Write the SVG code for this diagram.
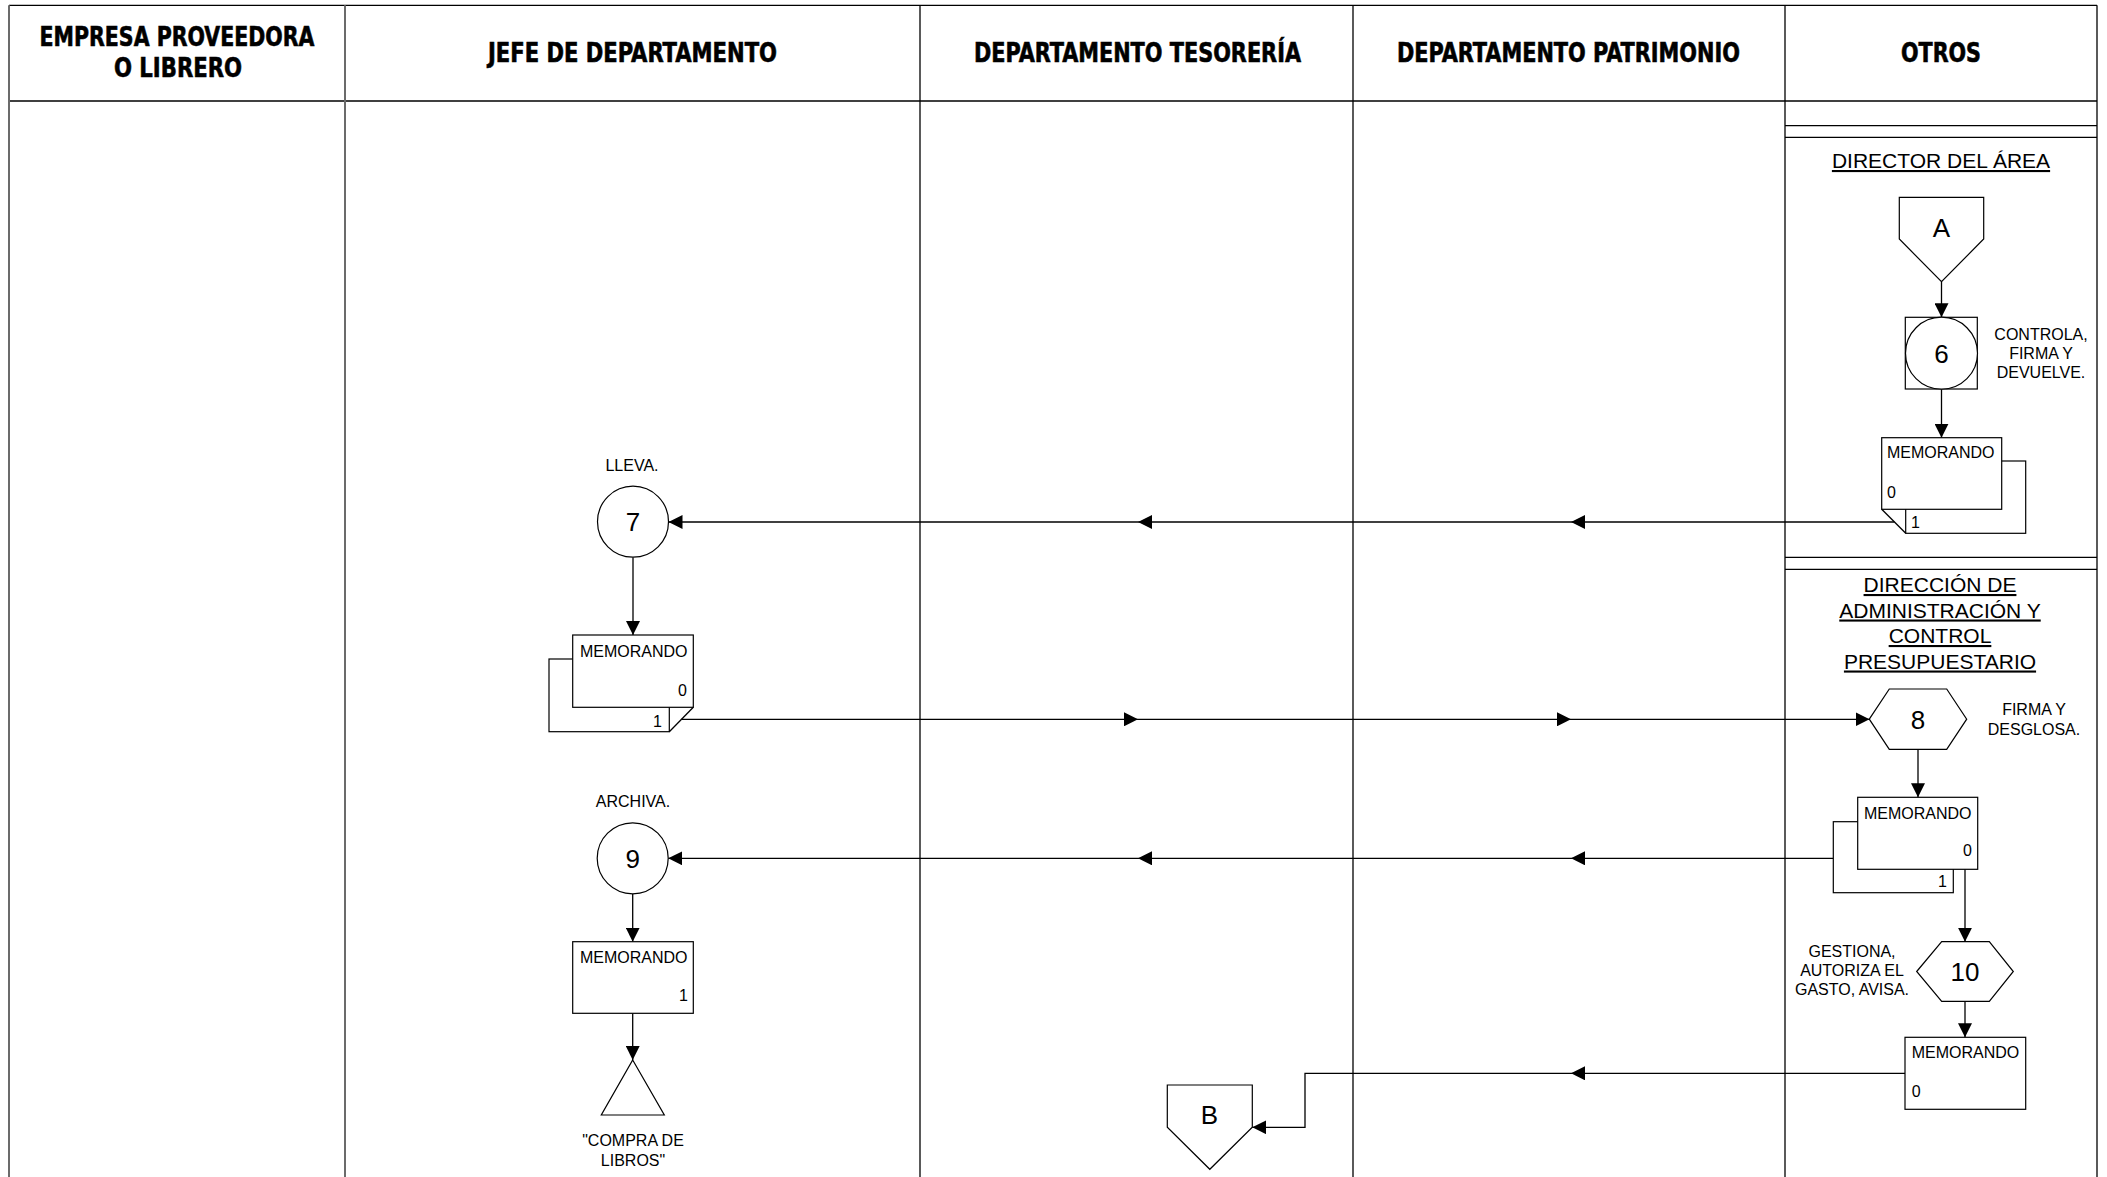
<svg xmlns="http://www.w3.org/2000/svg" width="2107" height="1177" viewBox="0 0 2107 1177">
<style>
.hdr{font-family:"Liberation Sans Narrow","DejaVu Sans Condensed","Liberation Sans",sans-serif;font-weight:bold;font-size:27px;fill:#000;stroke:#000;stroke-width:0.6;text-anchor:middle}
.t{font-family:"Liberation Sans",Arial,sans-serif;fill:#000}
.s{font-size:16px}
.big{font-size:26px;text-anchor:middle}
.mid{text-anchor:middle}
.end{text-anchor:end}
.ul{font-size:21px;text-anchor:middle;text-decoration:underline}
.shape{fill:#fff;stroke:#000;stroke-width:1.2}
.lane{stroke:#000;stroke-width:1.3;fill:none}
.lane2{stroke:#6b6b6b;stroke-width:2;fill:none}
.con{stroke:#000;stroke-width:1.3;fill:none}
.arr{marker-end:url(#ah)}
</style>
<defs>
<marker id="ah" markerUnits="userSpaceOnUse" markerWidth="14" markerHeight="14" refX="14" refY="7" orient="auto">
<path d="M0,0 L14,7 L0,14 z" fill="#000"/>
</marker>
</defs>
<rect x="0" y="0" width="2107" height="1177" fill="#fff"/>
<g id="lanes">
<line class="lane" x1="9" y1="5.3" x2="2097" y2="5.3"/>
<line class="lane" x1="9" y1="101" x2="2097" y2="101"/>
<line class="lane2" x1="9" y1="5.3" x2="9" y2="1177"/>
<line class="lane2" x1="345" y1="5.3" x2="345" y2="1177"/>
<line class="lane" x1="920" y1="5.3" x2="920" y2="1177"/>
<line class="lane" x1="1353" y1="5.3" x2="1353" y2="1177"/>
<line class="lane" x1="1785" y1="5.3" x2="1785" y2="1177"/>
<line class="lane" x1="2097" y1="5.3" x2="2097" y2="1177"/>
<line class="lane" x1="1785" y1="125.7" x2="2097" y2="125.7"/>
<line class="lane" x1="1785" y1="137.3" x2="2097" y2="137.3"/>
<line class="lane" x1="1785" y1="557.3" x2="2097" y2="557.3"/>
<line class="lane" x1="1785" y1="569.3" x2="2097" y2="569.3"/>
<text class="hdr" x="177" y="46" textLength="275" lengthAdjust="spacingAndGlyphs">EMPRESA PROVEEDORA</text>
<text class="hdr" x="178" y="77" textLength="128" lengthAdjust="spacingAndGlyphs">O LIBRERO</text>
<text class="hdr" x="632.5" y="62" textLength="289" lengthAdjust="spacingAndGlyphs">JEFE DE DEPARTAMENTO</text>
<text class="hdr" x="1137.5" y="62" textLength="327" lengthAdjust="spacingAndGlyphs">DEPARTAMENTO TESORERÍA</text>
<text class="hdr" x="1568.5" y="62" textLength="343" lengthAdjust="spacingAndGlyphs">DEPARTAMENTO PATRIMONIO</text>
<text class="hdr" x="1941" y="62" textLength="80" lengthAdjust="spacingAndGlyphs">OTROS</text>
<text class="t ul" x="1941" y="168">DIRECTOR DEL ÁREA</text>
<text class="t ul" x="1940" y="592">DIRECCIÓN DE</text>
<text class="t ul" x="1940" y="617.5">ADMINISTRACIÓN Y</text>
<text class="t ul" x="1940" y="643">CONTROL</text>
<text class="t ul" x="1940" y="668.5">PRESUPUESTARIO</text>
</g>
<g id="connectors">
<path class="con arr" d="M1941.5,281.7 L1941.5,317.3"/>
<path class="con arr" d="M1941.5,389 L1941.5,437.7"/>
<path class="con arr" d="M1894.4,522 L1571,522"/>
<path class="con arr" d="M1571,522 L1138,522"/>
<path class="con arr" d="M1138,522 L668.5,522"/>
<path class="con arr" d="M633,557.2 L633,635"/>
<path class="con arr" d="M681.3,719.3 L1138,719.3"/>
<path class="con arr" d="M1138,719.3 L1571,719.3"/>
<path class="con arr" d="M1571,719.3 L1869.5,719.3"/>
<path class="con arr" d="M1918,749.3 L1918,797.3"/>
<path class="con arr" d="M1833.3,858.3 L1571,858.3"/>
<path class="con arr" d="M1571,858.3 L1138,858.3"/>
<path class="con arr" d="M1138,858.3 L668.2,858.3"/>
<path class="con arr" d="M1965,869.3 L1965,941.7"/>
<path class="con arr" d="M1965,1001.5 L1965,1037.3"/>
<path class="con arr" d="M632.7,893.8 L632.7,941.7"/>
<path class="con arr" d="M632.7,1013.3 L632.7,1060"/>
<path class="con arr" d="M1905,1073.3 L1571,1073.3"/>
<path class="con arr" d="M1571,1073.3 L1305,1073.3 L1305,1127.3 L1252.3,1127.3"/>
</g>
<g id="nodeA">
<polygon class="shape" points="1899.3,197.3 1983.7,197.3 1983.7,239 1941.5,281.7 1899.3,239"/>
<text class="t big" x="1941.5" y="236.7">A</text>
</g>
<g id="node6">
<rect class="shape" x="1905.3" y="317.3" width="72" height="71.7"/>
<circle class="shape" cx="1941.5" cy="353.2" r="36"/>
<text class="t big" x="1941.5" y="362.5">6</text>
<text class="t s mid" x="2041" y="340">CONTROLA,</text>
<text class="t s mid" x="2041" y="358.5">FIRMA Y</text>
<text class="t s mid" x="2041" y="378">DEVUELVE.</text>
</g>
<g id="memoDirector">
<rect class="shape" x="1905.7" y="461" width="120" height="72.3"/>
<rect class="shape" x="1881.7" y="437.7" width="120" height="71.6"/>
<path class="con" d="M1881.7,509.3 L1905.7,533.3"/>
<text class="t s" x="1887" y="458">MEMORANDO</text>
<text class="t s" x="1887" y="498">0</text>
<text class="t s" x="1911" y="528">1</text>
</g>
<g id="node7">
<circle class="shape" cx="633" cy="521.7" r="35.5"/>
<text class="t big" x="633" y="531">7</text>
<text class="t s mid" x="632" y="471">LLEVA.</text>
</g>
<g id="memoJefe">
<rect class="shape" x="549" y="659" width="120.3" height="72.7"/>
<rect class="shape" x="572.7" y="635" width="120.6" height="72.3"/>
<path class="con" d="M693.3,707.3 L669.3,731.7"/>
<text class="t s" x="580" y="657">MEMORANDO</text>
<text class="t s end" x="687" y="696">0</text>
<text class="t s end" x="662" y="727">1</text>
</g>
<g id="node8">
<polygon class="shape" points="1869.3,719.2 1889.3,689 1946.7,689 1966.7,719.2 1946.7,749.3 1889.3,749.3"/>
<text class="t big" x="1918" y="728.5">8</text>
<text class="t s mid" x="2034" y="715">FIRMA Y</text>
<text class="t s mid" x="2034" y="735">DESGLOSA.</text>
</g>
<g id="memoAdm">
<rect class="shape" x="1833.3" y="821.7" width="120" height="71"/>
<rect class="shape" x="1857.7" y="797.3" width="120" height="72"/>
<text class="t s" x="1864" y="819">MEMORANDO</text>
<text class="t s end" x="1972" y="856">0</text>
<text class="t s end" x="1947" y="887">1</text>
</g>
<g id="node9">
<circle class="shape" cx="632.7" cy="858.3" r="35.5"/>
<text class="t big" x="632.7" y="867.5">9</text>
<text class="t s mid" x="633" y="807">ARCHIVA.</text>
</g>
<g id="memo9">
<rect class="shape" x="572.7" y="941.7" width="120.6" height="71.6"/>
<text class="t s" x="580" y="963">MEMORANDO</text>
<text class="t s end" x="688" y="1001">1</text>
</g>
<g id="archivo">
<polygon class="shape" points="632.7,1060 664.3,1115 601.3,1115"/>
<text class="t s mid" x="633" y="1146">"COMPRA DE</text>
<text class="t s mid" x="633" y="1166">LIBROS"</text>
</g>
<g id="node10">
<polygon class="shape" points="1916.7,971.5 1941.7,941.7 1989.3,941.7 2013.3,971.5 1989.3,1001.3 1941.7,1001.3"/>
<text class="t big" x="1965" y="980.5">10</text>
<text class="t s mid" x="1852" y="956.7">GESTIONA,</text>
<text class="t s mid" x="1852" y="976">AUTORIZA EL</text>
<text class="t s mid" x="1852" y="995">GASTO, AVISA.</text>
</g>
<g id="memo10">
<rect class="shape" x="1905" y="1037.3" width="120.7" height="72"/>
<text class="t s" x="1911.7" y="1058">MEMORANDO</text>
<text class="t s" x="1911.7" y="1097">0</text>
</g>
<g id="nodeB">
<polygon class="shape" points="1167.3,1085 1252.3,1085 1252.3,1127.3 1209.8,1169.3 1167.3,1127.3"/>
<text class="t big" x="1209.5" y="1124">B</text>
</g>
</svg>
